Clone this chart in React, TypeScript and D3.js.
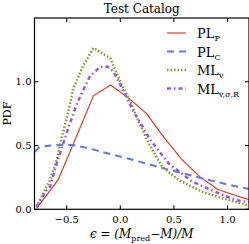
import * as d3 from 'd3'

const xTicks = [-0.5, 0.0, 0.5, 1.0]
const yTicks = [0.0, 0.5, 1.0]

const plpX = [-0.78, -0.58, -0.25, -0.09, 0.08, 0.245, 0.41, 0.575, 0.74, 0.905, 1.07, 1.2]
const plpY = [0.01, 0.23, 0.89, 0.975, 0.87, 0.75, 0.56, 0.39, 0.256, 0.157, 0.11, 0.075]

const plcX = [-0.8, -0.75, -0.6, -0.45, -0.3, -0.15, 0.0, 0.15, 0.3, 0.45, 0.6, 0.75, 0.9, 1.05, 1.2]
const plcY = [0.45, 0.49, 0.505, 0.505, 0.48, 0.445, 0.413, 0.38, 0.345, 0.31, 0.28, 0.245, 0.215, 0.185, 0.16]

const mlvX = [-0.78, -0.75, -0.655, -0.593, -0.53, -0.484, -0.437, -0.344, -0.25, -0.094, 0.0, 0.093, 0.17, 0.264, 0.389, 0.544, 0.762, 0.95, 1.2]
const mlvY = [0.02, 0.073, 0.23, 0.387, 0.62, 0.767, 0.95, 1.13, 1.265, 1.186, 1.0, 0.845, 0.69, 0.52, 0.335, 0.23, 0.138, 0.086, 0.03]

const mlaX = [-0.78, -0.75, -0.7, -0.655, -0.593, -0.5, -0.406, -0.344, -0.281, -0.188, -0.12, -0.064, 0.0, 0.062, 0.123, 0.2, 0.28, 0.45, 0.67, 0.918, 1.074, 1.2]
const mlaY = [0.02, 0.06, 0.138, 0.178, 0.36, 0.6, 0.825, 0.937, 1.047, 1.115, 1.12, 1.08, 0.976, 0.87, 0.767, 0.66, 0.544, 0.36, 0.217, 0.126, 0.073, 0.057]

const series = [
  { xs: plpX, ys: plpY, color: '#e0392f', width: 1.2, dash: null, main: 'PL', sub: 'P' },
  { xs: plcX, ys: plcY, color: '#6676e4', width: 2, dash: '7,5', main: 'PL', sub: 'C' },
  { xs: mlvX, ys: mlvY, color: '#7d9b2c', width: 2.5, dash: '1.5,2', main: 'ML', sub: 'v' },
  { xs: mlaX, ys: mlaY, color: '#9a55e6', width: 2.5, dash: '4,3,1.5,3', main: 'ML', sub: 'v,σ,R' },
]

const W = 249
const H = 244
const m = { l: 34.5, r: 249, t: 18, b: 209.3 }

export default function App() {
  const x = d3.scaleLinear().domain([-0.8, 1.2]).range([m.l, m.r])
  const y = d3.scaleLinear().domain([0, 1.5]).range([m.b, m.t])
  const line = d3.line<[number, number]>().x((d) => x(d[0])).y((d) => y(d[1]))
  const font = 'DejaVu Serif, serif'

  return (
    <svg width={W} height={H} style={{ position: 'absolute', left: 0, top: 0 }} fontFamily={font}>
      <defs>
        <clipPath id="plot">
          <rect x={m.l} y={m.t} width={m.r - m.l} height={m.b - m.t} />
        </clipPath>
      </defs>
      <rect width={W} height={H} fill="white" />
      <g clipPath="url(#plot)">
        {series.map((s, i) => (
          <path
            key={i}
            d={line(s.xs.map((v, j) => [v, s.ys[j]] as [number, number])) || ''}
            fill="none"
            stroke={s.color}
            strokeWidth={s.width}
            strokeDasharray={s.dash || undefined}
          />
        ))}
      </g>
      <rect x={m.l} y={m.t} width={m.r - m.l} height={m.b - m.t} fill="none" stroke="black" strokeWidth={1.2} />
      {xTicks.map((t) => (
        <g key={t}>
          <line x1={x(t)} x2={x(t)} y1={m.b} y2={m.b - 4} stroke="black" />
          <line x1={x(t)} x2={x(t)} y1={m.t} y2={m.t + 4} stroke="black" />
          <text x={x(t)} y={m.b + 14} fontSize={10} textAnchor="middle">
            {t < 0 ? '\u2212' + Math.abs(t).toFixed(1) : t.toFixed(1)}
          </text>
        </g>
      ))}
      {yTicks.map((t) => (
        <g key={t}>
          <line x1={m.l} x2={m.l + 4} y1={y(t)} y2={y(t)} stroke="black" />
          <line x1={m.r} x2={m.r - 4} y1={y(t)} y2={y(t)} stroke="black" />
          <text x={m.l - 3} y={y(t) + 3.5} fontSize={10} textAnchor="end">
            {t.toFixed(1)}
          </text>
        </g>
      ))}
      <text x={(m.l + m.r) / 2} y={13} fontSize={12} textAnchor="middle">Test Catalog</text>
      <text transform={`translate(11,${(m.t + m.b) / 2}) rotate(-90)`} fontSize={11} textAnchor="middle">PDF</text>
      <text x={(m.l + m.r) / 2} y={238} fontSize={12} textAnchor="middle" fontStyle="italic">
        ϵ = (M<tspan fontSize={8} dy={3} fontStyle="normal">pred</tspan><tspan dy={-3}>−M)/M</tspan>
      </text>
      {series.map((s, i) => (
        <g key={i}>
          <line x1={167} x2={186} y1={33 + i * 18.5} y2={33 + i * 18.5} stroke={s.color} strokeWidth={s.width} strokeDasharray={s.dash || undefined} />
          <text x={197} y={38 + i * 18.5} fontSize={13}>
            {s.main}
            <tspan fontSize={8} dy={3}>{s.sub}</tspan>
          </text>
        </g>
      ))}
    </svg>
  )
}
